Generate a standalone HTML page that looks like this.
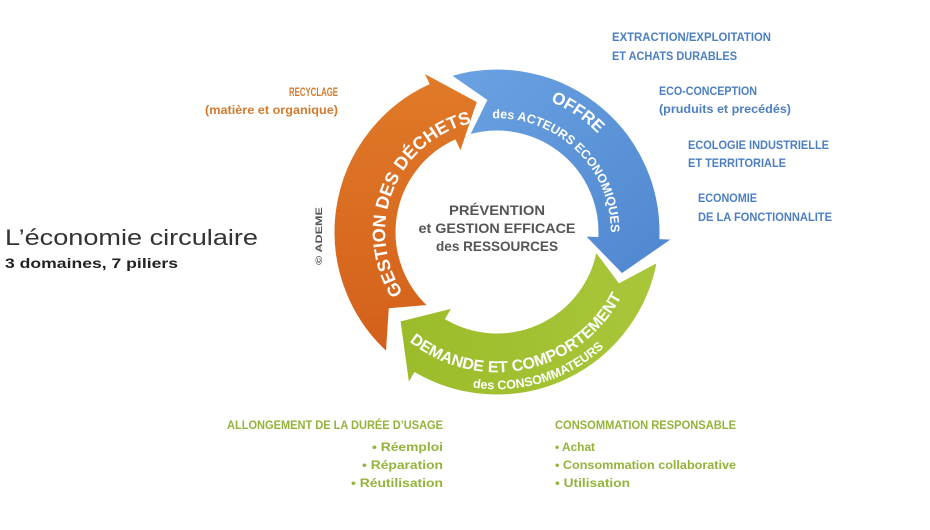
<!DOCTYPE html>
<html><head><meta charset="utf-8"><style>
html,body{margin:0;padding:0;background:#fff;width:930px;height:530px;overflow:hidden}
svg{display:block;font-family:"Liberation Sans",sans-serif}
</style></head><body>
<svg id="s" width="930" height="530" viewBox="0 0 930 530">
<defs>
<linearGradient id="gb" x1="0" y1="0" x2="1" y2="1"><stop offset="0" stop-color="#6aa2e2"/><stop offset="1" stop-color="#4f86cf"/></linearGradient>
<linearGradient id="go" x1="0" y1="1" x2="0" y2="0"><stop offset="0" stop-color="#d4601a"/><stop offset="1" stop-color="#e07a28"/></linearGradient>
<linearGradient id="gg" x1="0" y1="0" x2="1" y2="0"><stop offset="0" stop-color="#9bbc2a"/><stop offset="1" stop-color="#a9c63a"/></linearGradient>
</defs>
<g id="arrows"></g>
<g id="arctext" font-weight="bold" fill="#fff"></g>

<g font-weight="bold" fill="#555" font-size="14" text-anchor="middle">
<text x="497" y="215" textLength="96" lengthAdjust="spacingAndGlyphs">PRÉVENTION</text>
<text x="497" y="233" textLength="157" lengthAdjust="spacingAndGlyphs">et GESTION EFFICACE</text>
<text x="497" y="251" textLength="122" lengthAdjust="spacingAndGlyphs">des RESSOURCES</text>
</g>
<text x="322" y="265" transform="rotate(-90 322 265)" font-size="9" font-weight="bold" fill="#555" textLength="58" lengthAdjust="spacingAndGlyphs">© ADEME</text>

<text x="5" y="245" font-size="22" fill="#333" textLength="253" lengthAdjust="spacingAndGlyphs">L’économie circulaire</text>
<text x="5" y="268" font-size="14" font-weight="bold" fill="#222" textLength="173" lengthAdjust="spacingAndGlyphs">3 domaines, 7 piliers</text>

<g font-size="12" font-weight="bold" fill="#4c7fc2">
<text x="612" y="41" textLength="159" lengthAdjust="spacingAndGlyphs">EXTRACTION/EXPLOITATION</text>
<text x="612" y="60" textLength="125" lengthAdjust="spacingAndGlyphs">ET ACHATS DURABLES</text>
<text x="659" y="95" textLength="98" lengthAdjust="spacingAndGlyphs">ECO-CONCEPTION</text>
<text x="659" y="113" textLength="132" lengthAdjust="spacingAndGlyphs">(pruduits et precédés)</text>
<text x="688" y="149" textLength="141" lengthAdjust="spacingAndGlyphs">ECOLOGIE INDUSTRIELLE</text>
<text x="688" y="167" textLength="98" lengthAdjust="spacingAndGlyphs">ET TERRITORIALE</text>
<text x="698" y="202" textLength="59" lengthAdjust="spacingAndGlyphs">ECONOMIE</text>
<text x="698" y="221" textLength="134" lengthAdjust="spacingAndGlyphs">DE LA FONCTIONNALITE</text>
</g>
<g font-size="12" font-weight="bold" fill="#d47a2e">
<text x="289" y="96" textLength="49" lengthAdjust="spacingAndGlyphs">RECYCLAGE</text>
<text x="205" y="114" textLength="133" lengthAdjust="spacingAndGlyphs">(matière et organique)</text>
</g>
<g font-size="12" font-weight="bold" fill="#94b33a">
<text x="227" y="429" textLength="216" lengthAdjust="spacingAndGlyphs">ALLONGEMENT DE LA DURÉE D’USAGE</text>
<text x="372" y="451" textLength="71" lengthAdjust="spacingAndGlyphs">• Réemploi</text>
<text x="362" y="469" textLength="81" lengthAdjust="spacingAndGlyphs">• Réparation</text>
<text x="351" y="487" textLength="92" lengthAdjust="spacingAndGlyphs">• Réutilisation</text>
<text x="555" y="429" textLength="181" lengthAdjust="spacingAndGlyphs">CONSOMMATION RESPONSABLE</text>
<text x="555" y="451" textLength="40" lengthAdjust="spacingAndGlyphs">• Achat</text>
<text x="555" y="469" textLength="181" lengthAdjust="spacingAndGlyphs">• Consommation collaborative</text>
<text x="555" y="487" textLength="75" lengthAdjust="spacingAndGlyphs">• Utilisation</text>
</g>
</svg>
<script>
var cx=497,cy=232,R1=100,R2=164,F1=86,F2=178,RM=132;
function P(a,r){var t=a*Math.PI/180;return (cx+r*Math.sin(t)).toFixed(1)+","+(cy-r*Math.cos(t)).toFixed(1);}
function arrow(a0,a1,a2,fill){
 var big=((a1-a0+360)%360)>180?1:0;
 var d="M"+P(a0,R2)+" A"+R2+","+R2+" 0 "+big+" 1 "+P(a1,R2)+" L"+P(a1,F2)+" L"+P(a2,RM)+" L"+P(a1,F1)+" L"+P(a1,R1)+
 " A"+R1+","+R1+" 0 "+big+" 0 "+P(a0,R1)+" L"+P(a0+12,RM)+" Z";
 return '<path d="'+d+'" fill="'+fill+'" stroke="#fff" stroke-width="3" stroke-linejoin="miter"/>';
}
function arcPath(id,c,span,r,cw){
 var a0=cw?c-span/2:c+span/2,a1=cw?c+span/2:c-span/2;
 return '<path id="'+id+'" fill="none" d="M'+P(a0,r)+' A'+r+','+r+' 0 0 '+(cw?1:0)+' '+P(a1,r)+'"/>';
}
var g=document.getElementById('arrows');
g.innerHTML=arrow(222,335,352,"url(#go)")+arrow(343,92,109,"url(#gb)")+arrow(100,210,228,"url(#gg)");
var t=document.getElementById('arctext');
var h=arcPath('p1',292,170,112,true)+arcPath('p2',34,80,141,true)+arcPath('p3',44,170,114,true)+arcPath('p4',168,170,140,false)+arcPath('p5',163,170,157,false);
function tp(id,txt,size){return '<text font-size="'+size+'" text-anchor="middle"><textPath href="#'+id+'" startOffset="50%">'+txt+'</textPath></text>';}
h+=tp('p1','GESTION DES DÉCHETS',18)+tp('p2','OFFRE',17)+tp('p3','des ACTEURS ECONOMIQUES',12.5)+tp('p4','DEMANDE ET COMPORTEMENT',16)+tp('p5','des CONSOMMATEURS',12.5);
t.innerHTML=h;
</script>
</body></html>
